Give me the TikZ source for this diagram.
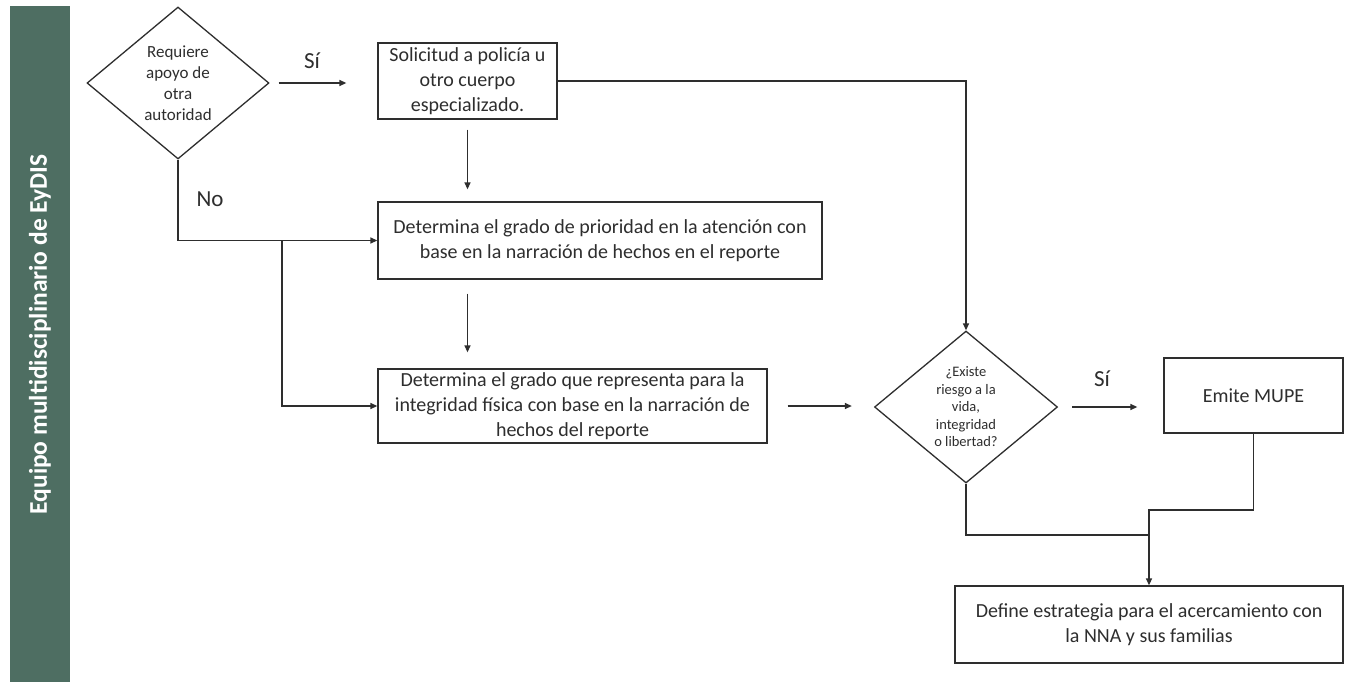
\documentclass[tikz,border=0pt]{standalone}
\usepackage{fontspec}
\setmainfont{Carlito}
\usetikzlibrary{arrows.meta,shapes.geometric,calc}
\definecolor{bargreen}{HTML}{4E6E62}
\definecolor{ink}{HTML}{2E2E2E}
\begin{document}
\begin{tikzpicture}[x=1pt,y=-1pt,
  line width=1.3pt,
  every node/.style={text=ink},
  procbox/.style={draw=ink,line width=1.3pt,rectangle,inner sep=0pt,align=center,
     font=\fontsize{20}{25}\selectfont},
  decbox/.style={draw=ink,line width=1.3pt,diamond,inner sep=0pt},
  dectext/.style={align=center,inner sep=0pt},
  arr/.style={draw=ink,-{Triangle[length=7pt,width=6pt]}},
  conn/.style={draw=ink},
  lbl/.style={font=\fontsize{23}{27}\selectfont,inner sep=0pt}]
\useasboundingbox (0,0) rectangle (1347,681);
\fill[white] (0,0) rectangle (1347,681);
% sidebar
\node[fill=bargreen,minimum width=60pt,minimum height=676pt,inner sep=0pt,anchor=north west] (bar) at (9,5) {};
\node[rotate=90,text=white,font=\fontsize{25.5}{30}\selectfont\bfseries,inner sep=0pt] (bartext) at (40,334.5) {Equipo multidisciplinario de EyDIS};
% diamonds
\node[decbox,minimum width=182pt,minimum height=152pt] (d1) at (178,83) {};
\node[dectext,font=\fontsize{17}{21}\selectfont] (d1t) at (d1.center) {Requiere\\apoyo de\\otra\\autoridad};
\node[decbox,minimum width=183pt,minimum height=152pt] (d2) at (966,407) {};
\node[dectext,font=\fontsize{14.5}{17.5}\selectfont] (d2t) at (d2.center) {¿Existe\\riesgo a la\\vida,\\integridad\\o libertad?};
% boxes
\node[procbox,minimum width=179pt,minimum height=76pt] (sol) at (467.5,81) {Solicitud a policía u\\otro cuerpo\\especializado.};
\node[procbox,minimum width=444pt,minimum height=77pt] (det1) at (600,240.5) {Determina el grado de prioridad en la atención con\\base en la narración de hechos en el reporte};
\node[procbox,minimum width=389pt,minimum height=74pt] (det2) at (572.5,406) {Determina el grado que representa para la\\integridad física con base en la narración de\\hechos del reporte};
\node[procbox,minimum width=179pt,minimum height=75pt] (mupe) at (1253.5,395.5) {Emite MUPE};
\node[procbox,minimum width=388pt,minimum height=77pt] (def) at (1149,624.5) {Define estrategia para el acercamiento con\\la NNA y sus familias};
% labels
\node[lbl] (si1) at (312,61) {Sí};
\node[lbl] (no1) at (210,199) {No};
\node[lbl] (si2) at (1102,379) {Sí};
% connectors
\draw[arr,shorten <=9pt,shorten >=31pt] (d1.east) -- (d1.east -| sol.west);
\draw[arr,shorten <=10pt,shorten >=12pt] (sol.south) -- (sol.south |- det1.north);
\draw[arr,shorten <=14pt,shorten >=16pt] (sol.south |- det1.south) -- (sol.south |- det2.north);
\draw[arr] (d1.south) |- (det1.west);
\coordinate (br) at (282,240.5);
\draw[arr] (br) |- (det2.west);
\draw[arr,shorten <=20pt,shorten >=22pt] (det2.east) -- (det2.east -| d2.west);
\draw[arr] (sol.east) -| (d2.north);
\draw[arr,shorten <=14pt,shorten >=26pt] (d2.east) -- (d2.east -| mupe.west);
\coordinate (j1) at (1149,535);
\coordinate (j2) at (1149,510);
\draw[conn] (d2.south) |- (j1);
\draw[arr] (mupe.south) |- (j2) -- (def.north);
\end{tikzpicture}
\end{document}
